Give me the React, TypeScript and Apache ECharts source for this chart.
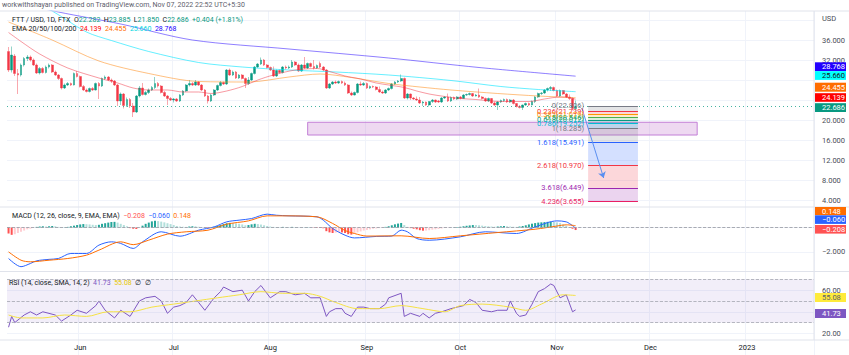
import React, { useEffect, useRef } from 'react';
import * as echarts from 'echarts';

const START = Date.UTC(2022, 4, 9);
const DAYS = 259;
const MONTHS = ['Jan', 'Feb', 'Mar', 'Apr', 'May', 'Jun', 'Jul', 'Aug', 'Sep', 'Oct', 'Nov', 'Dec'];

// [open, close, low, high]
const candles: number[][] = [
  [33.7, 30.0, 29.6, 34.6], [30.0, 33.0, 29.5, 34.7], [32.8, 29.3, 28.8, 33.2], [29.3, 29.0, 25.2, 30.2],
  [29.0, 31.0, 28.7, 31.3], [31.0, 32.3, 30.7, 32.6], [32.3, 32.6, 31.8, 33.0], [32.6, 32.0, 31.7, 32.9],
  [32.0, 31.0, 30.8, 32.3], [31.0, 29.4, 29.2, 31.3], [29.4, 30.3, 29.1, 30.6], [30.3, 29.5, 29.3, 30.6],
  [29.5, 30.6, 29.3, 30.9], [30.6, 31.0, 30.3, 31.3], [31.0, 29.6, 29.4, 31.2], [29.6, 29.0, 28.8, 29.9],
  [29.0, 28.3, 28.0, 29.2], [28.3, 26.4, 26.1, 28.5], [26.4, 27.0, 26.2, 27.3], [27.0, 27.3, 26.8, 27.6],
  [27.3, 27.0, 26.8, 27.5], [27.0, 29.3, 26.9, 29.5], [29.3, 28.7, 28.5, 29.8], [28.7, 26.7, 26.5, 28.9],
  [26.7, 26.0, 25.8, 27.0], [26.0, 25.7, 25.5, 26.3], [25.7, 26.3, 25.5, 26.5], [26.3, 26.0, 25.8, 26.6],
  [26.0, 27.3, 25.9, 27.5], [27.3, 26.8, 24.2, 27.6], [26.8, 28.3, 26.6, 28.5], [28.3, 28.6, 28.0, 28.9],
  [28.6, 28.0, 27.8, 28.8], [28.0, 27.8, 27.4, 28.3], [27.8, 27.0, 26.8, 28.0], [27.0, 23.8, 22.8, 27.2],
  [23.8, 25.2, 23.0, 25.5], [25.2, 22.9, 22.3, 25.4], [22.9, 24.1, 22.6, 24.5], [24.1, 22.8, 22.4, 24.4],
  [22.8, 21.6, 20.6, 23.4], [21.6, 24.8, 21.4, 25.0], [24.8, 26.4, 24.5, 26.8], [26.4, 25.1, 24.9, 27.4],
  [25.1, 25.5, 24.9, 25.8], [25.5, 26.0, 25.2, 26.3], [26.0, 26.5, 25.8, 26.8], [26.5, 27.3, 26.2, 28.6],
  [27.3, 26.8, 26.5, 27.6], [26.8, 25.5, 25.3, 27.0], [25.5, 24.8, 24.6, 25.8], [24.8, 24.3, 23.0, 25.0],
  [24.3, 24.0, 23.8, 24.6], [24.0, 24.2, 23.5, 24.4], [24.2, 23.8, 23.6, 24.4], [23.8, 25.0, 23.6, 25.2],
  [25.0, 25.8, 24.8, 26.0], [25.8, 27.0, 25.6, 27.2], [27.0, 27.3, 26.7, 28.0], [27.3, 27.0, 26.8, 27.6],
  [27.0, 27.6, 26.8, 28.0], [27.6, 27.0, 26.8, 27.8], [27.0, 26.0, 25.8, 27.2], [26.0, 24.8, 24.6, 26.2],
  [24.8, 23.8, 23.3, 25.0], [23.8, 25.0, 23.6, 25.2], [25.0, 26.0, 24.8, 26.2], [26.0, 26.9, 25.8, 27.1],
  [26.9, 27.5, 26.7, 27.8], [27.5, 27.2, 27.0, 27.7], [27.2, 30.0, 27.0, 30.2], [30.0, 29.0, 28.8, 30.3],
  [29.0, 29.6, 28.8, 29.9], [29.6, 28.4, 28.2, 29.8], [28.4, 29.0, 28.2, 29.2], [29.0, 28.3, 28.1, 29.2],
  [28.3, 27.3, 26.4, 28.5], [27.3, 28.0, 27.0, 28.6], [28.0, 29.3, 27.8, 29.5], [29.3, 30.6, 29.1, 30.8],
  [30.6, 31.2, 30.4, 31.4], [31.2, 32.0, 31.0, 32.5], [32.0, 31.0, 30.8, 32.2], [31.0, 30.5, 30.3, 31.2],
  [30.5, 30.0, 29.8, 30.7], [30.0, 28.8, 28.6, 30.7], [28.8, 29.9, 28.6, 30.1], [29.9, 29.5, 29.3, 30.1],
  [29.5, 30.6, 29.3, 30.8], [30.6, 30.4, 30.1, 30.9], [30.4, 30.6, 30.2, 30.9], [30.6, 31.6, 30.4, 32.0],
  [31.6, 31.0, 30.8, 31.8], [31.0, 29.8, 29.6, 31.3], [29.8, 31.0, 29.6, 31.2], [31.0, 30.4, 30.2, 32.6],
  [30.4, 31.3, 30.2, 31.5], [31.3, 30.7, 30.5, 31.5], [30.7, 30.4, 30.1, 32.0], [30.4, 30.9, 30.2, 31.1],
  [31.3, 30.6, 30.4, 31.7], [30.6, 30.0, 29.8, 30.8], [30.0, 26.4, 26.2, 30.2], [26.4, 27.2, 26.2, 27.4],
  [27.2, 27.6, 27.0, 27.8], [27.6, 27.4, 27.2, 27.9], [27.4, 27.7, 27.2, 27.9], [27.7, 27.4, 27.2, 27.9],
  [27.4, 27.0, 26.8, 27.7], [27.0, 25.4, 25.2, 27.2], [25.4, 25.0, 24.8, 25.7], [25.0, 25.5, 24.9, 25.7],
  [25.5, 27.2, 25.3, 27.4], [27.2, 27.0, 26.8, 27.7], [27.0, 27.3, 26.8, 27.6], [27.3, 26.4, 26.2, 27.5],
  [26.4, 26.7, 26.2, 26.9], [26.7, 26.6, 26.4, 26.9], [26.6, 26.1, 25.9, 26.8], [26.1, 25.6, 25.4, 26.7],
  [25.6, 25.4, 25.2, 25.9], [25.4, 26.0, 25.2, 26.2], [26.0, 26.3, 25.8, 26.5], [26.3, 27.2, 26.1, 27.4],
  [27.2, 27.6, 27.0, 27.8], [27.6, 27.8, 27.4, 28.0], [27.8, 28.3, 27.6, 29.1], [28.3, 24.4, 24.2, 28.5],
  [24.4, 25.2, 24.1, 25.4], [25.2, 24.4, 24.0, 25.3], [24.4, 24.2, 24.0, 24.6], [24.2, 24.0, 23.8, 24.7],
  [24.0, 23.4, 23.2, 24.6], [23.4, 23.6, 22.8, 23.8], [23.6, 23.0, 22.8, 23.7], [23.0, 23.7, 22.7, 23.8],
  [23.7, 24.0, 23.4, 24.2], [24.0, 23.6, 23.4, 24.1], [23.8, 23.6, 23.4, 24.0], [23.6, 24.4, 23.4, 24.6],
  [24.4, 24.6, 24.2, 24.8], [24.6, 23.8, 23.6, 25.3], [23.8, 24.5, 23.6, 24.7], [24.5, 24.2, 24.0, 24.7],
  [24.2, 24.6, 24.0, 24.8], [24.6, 24.3, 24.1, 24.8], [24.3, 25.0, 24.2, 25.2], [25.0, 25.1, 24.8, 25.3],
  [25.1, 25.3, 24.9, 25.5], [25.3, 24.8, 24.6, 25.4], [24.8, 25.0, 24.7, 25.2], [25.0, 24.6, 24.4, 26.3],
  [24.6, 24.3, 24.1, 24.8], [24.3, 23.8, 23.6, 24.5], [23.8, 24.3, 23.6, 24.5], [24.3, 23.4, 23.2, 24.4],
  [23.4, 23.0, 22.8, 23.7], [23.0, 23.6, 22.0, 23.8], [23.6, 23.9, 23.4, 24.1], [23.9, 24.1, 23.6, 24.3],
  [24.1, 23.6, 23.4, 24.3], [23.6, 24.0, 23.4, 24.2], [24.0, 23.3, 23.1, 24.2], [23.3, 22.7, 22.5, 23.4],
  [22.7, 22.5, 22.3, 23.0], [22.5, 23.0, 22.0, 23.1], [23.0, 23.3, 22.8, 23.5], [23.3, 23.0, 22.8, 23.5],
  [23.0, 23.7, 22.9, 23.9], [23.7, 24.6, 23.4, 24.8], [24.6, 25.3, 24.4, 25.5], [25.3, 25.4, 25.0, 25.6],
  [25.4, 26.0, 25.2, 26.2], [26.0, 26.3, 25.7, 26.5], [26.3, 26.5, 25.8, 26.8], [26.5, 25.9, 25.7, 26.7],
  [25.9, 24.8, 24.6, 26.1], [24.8, 25.9, 24.6, 26.1], [25.9, 25.2, 25.0, 26.0], [25.2, 24.6, 24.4, 25.4],
  [24.6, 24.3, 24.0, 25.1], [24.3, 22.282, 22.0, 24.5], [22.282, 22.686, 21.85, 23.885],
];

// [day index, value]
const ema20: number[][] = [
  [0, 37.5], [4, 35.7], [10, 33.2], [19, 30.4], [29, 28.4], [35, 27.4], [40, 26.4], [45, 26.0], [51, 26.0],
  [56, 25.6], [61, 25.6], [65, 25.3], [70, 25.8], [75, 26.7], [80, 28.0], [85, 29.0], [92, 30.0], [99, 30.3],
  [103, 29.7], [108, 28.8], [113, 28.2], [118, 27.4], [122, 27.0], [127, 26.5], [131, 25.8], [135, 25.2],
  [140, 24.7], [145, 24.3], [150, 24.1], [158, 23.7], [167, 23.7], [172, 24.2], [177, 24.6], [180, 24.5], [182, 24.139],
];
const ema50: number[][] = [
  [0, 39.6], [14, 36.0], [29, 31.8], [45, 29.3], [61, 27.7], [77, 27.6], [90, 28.6], [100, 29.2], [110, 28.5],
  [122, 27.3], [132, 26.6], [142, 26.0], [157, 25.3], [170, 24.8], [182, 24.455],
];
const ema100: number[][] = [
  [0, 46.0], [7, 43.8], [14, 41.8], [25, 37.6], [33, 35.9], [45, 33.7], [61, 31.5], [75, 30.6], [90, 30.0],
  [105, 29.6], [122, 29.0], [142, 27.9], [158, 26.7], [170, 26.1], [182, 25.66],
];
const ema200: number[][] = [
  [0, 43.8], [16, 41.6], [36, 39.2], [59, 36.0], [90, 34.2], [122, 32.4], [151, 30.5], [182, 28.768],
];

const macdLine: number[][] = [
  [0, -2.53], [4, -3.2], [7, -2.94], [9, -2.72], [13, -2.6], [16, -2.53], [20, -2.12], [25, -2.12], [29, -1.44],
  [33, -1.17], [36, -1.3], [40, -1.71], [43, -1.17], [49, -0.35], [55, -0.71], [61, -0.22], [66, 0.05], [70, 0.46],
  [74, 0.6], [78, 0.73], [83, 1.09], [86, 1.0], [90, 0.95], [99, 0.87], [101, 0.6], [104, -0.08], [108, -0.63],
  [111, -0.85], [118, -0.73], [123, -0.7], [126, -0.22], [128, -0.35], [131, -0.9], [135, -1.04], [145, -0.76],
  [153, -0.35], [163, -0.49], [169, 0.05], [176, 0.54], [179, 0.46], [181, 0.15], [182, -0.06],
];
const signalLine: number[][] = [
  [0, -1.99], [4, -2.67], [7, -2.8], [13, -2.67], [19, -2.53], [25, -2.26], [29, -1.85], [36, -1.17], [40, -1.4],
  [45, -1.03], [51, -0.54], [57, -0.35], [64, -0.22], [70, 0.27], [77, 0.54], [83, 0.95], [88, 0.95], [99, 0.87],
  [104, 0.33], [108, -0.25], [111, -0.49], [115, -0.7], [126, -0.68], [135, -0.9], [145, -0.68], [157, -0.41],
  [169, -0.14], [176, 0.12], [179, 0.22], [182, 0.148],
];
const macdHist: number[] = [
  -0.5, -0.6, -0.55, -0.45, -0.35, -0.25, -0.15, -0.1, -0.02, 0.05, 0.08, 0.1, 0.08, 0.1, 0.12, 0.1, 0.05, 0.0, 0.02, 0.05,
  0.1, 0.15, 0.2, 0.25, 0.28, 0.27, 0.25, 0.22, 0.2, 0.22, 0.3, 0.35, 0.4, 0.45, 0.46, 0.4, 0.3, 0.2, 0.1, -0.05,
  -0.1, -0.12, 0.0, 0.15, 0.3, 0.4, 0.5, 0.55, 0.52, 0.48, 0.42, 0.35, 0.28, 0.2, 0.12, 0.08, 0.06, 0.05, 0.08, 0.1,
  0.1, 0.06, 0.02, -0.02, -0.05, 0.0, 0.06, 0.12, 0.2, 0.28, 0.35, 0.38, 0.36, 0.33, 0.3, 0.25, 0.18, 0.2, 0.26, 0.3,
  0.28, 0.24, 0.18, 0.12, 0.08, 0.05, 0.04, 0.03, 0.05, 0.04, 0.03, 0.05, 0.04, 0.02, 0.0, 0.01, 0.02, 0.0, -0.02, -0.03,
  -0.04, -0.06, -0.3, -0.4, -0.45, -0.42, -0.38, -0.4, -0.45, -0.55, -0.58, -0.5, -0.4, -0.32, -0.25, -0.2, -0.15, -0.1, -0.08, -0.05,
  -0.02, 0.05, 0.1, 0.18, 0.26, 0.32, 0.37, 0.2, 0.05, -0.05, -0.1, -0.15, -0.22, -0.26, -0.25, -0.22, -0.18, -0.15, -0.12, -0.08,
  -0.04, -0.02, 0.0, 0.02, 0.04, 0.06, 0.1, 0.14, 0.17, 0.2, 0.2, 0.18, 0.15, 0.12, 0.1, 0.08, 0.06, 0.08, 0.1, 0.12,
  0.1, 0.08, 0.06, 0.05, 0.08, 0.12, 0.18, 0.25, 0.31, 0.36, 0.4, 0.42, 0.44, 0.46, 0.47, 0.46, 0.42, 0.36, 0.26, 0.15,
  0.04, -0.1, -0.208,
];

const rsiLine: number[][] = [
  [0, 25.7], [1, 35.7], [2, 30], [5, 37], [7, 40], [9, 37], [11, 40], [15, 37], [17, 31.4], [20, 37], [22, 41.4],
  [25, 38.6], [28, 45.7], [29, 50], [31, 41.4], [34, 34.3], [36, 41.4], [39, 35.7], [42, 50], [44, 52.9], [47, 54.3],
  [49, 50], [51, 38.6], [53, 44.3], [55, 45.7], [57, 48.6], [59, 55.7], [61, 48.6], [63, 41.4], [66, 52.9], [68, 58.6],
  [69, 62.9], [72, 58.6], [75, 60], [77, 50], [79, 58.6], [81, 64.3], [84, 52.9], [87, 58.6], [89, 58.6], [92, 55.7],
  [95, 57], [97, 52.9], [100, 53], [102, 35.7], [103, 40], [105, 42.9], [107, 42.9], [108, 38.6], [110, 35.7],
  [112, 44.3], [114, 44.3], [116, 42.9], [119, 42.9], [121, 47.1], [122, 52.9], [126, 57.1], [127, 35.7], [129, 38.6],
  [132, 35.7], [133, 38.6], [135, 34.3], [137, 38.6], [139, 40], [142, 42.9], [144, 44.3], [146, 45.7], [148, 51.4],
  [150, 48.6], [152, 41.4], [155, 40], [157, 41.4], [160, 41.4], [161, 50], [163, 38.6], [164, 35.7], [166, 37],
  [168, 47], [170, 58.6], [172, 61.4], [174, 65.7], [175, 64.3], [177, 52.9], [179, 55.7], [181, 40], [182, 41.73],
];
const rsiSma: number[][] = [
  [0, 37], [4, 34.3], [11, 34.3], [18, 37], [25, 35.7], [32, 40], [39, 40], [46, 44.3], [53, 47.1], [60, 50],
  [67, 52.9], [74, 55.7], [81, 58.6], [88, 57.1], [95, 57.1], [100, 54.3], [105, 48.6], [112, 42.9], [119, 42.9],
  [126, 45.7], [133, 42.9], [140, 40], [145, 45.7], [152, 47.1], [161, 44.3], [166, 41.4], [171, 47.1], [178, 55.7],
  [182, 55.08],
];

const fibLevels: number[] = [0, 0.236, 0.382, 0.5, 0.618, 0.786, 1, 1.618, 2.618, 3.618, 4.236];
const fibPrices: number[] = [22.806, 21.739, 21.079, 20.546, 20.012, 19.252, 18.285, 15.491, 10.97, 6.449, 3.655];
const fibColors: string[] = ['#787b86', '#f23645', '#ff9800', '#4caf50', '#089981', '#00bcd4', '#787b86', '#2962ff', '#f23645', '#9c27b0', '#e91e63'];
const fibSpan: number[] = [186, 202];
const zoneX: number[] = [96, 221];
const zoneY: number[] = [19.55, 17.0];
const arrowFrom: number[] = [184, 22.4];
const arrowTo: number[] = [191, 8.4];

// axis labels hidden behind the value tags in the reference
const hiddenPriceTicks: number[] = [24, 28, 40];
const hiddenMacdTicks: number[] = [0];
const hiddenRsiTicks: number[] = [40];

const UP = '#089981';
const DOWN = '#f23645';
const FF = 'Roboto, "Noto Sans", sans-serif';

function rgba(hex: string, a: number) {
  const n = parseInt(hex.slice(1), 16);
  return `rgba(${(n >> 16) & 255},${(n >> 8) & 255},${n & 255},${a})`;
}
const neg = (v: number, d: number) => (v < 0 ? '\u2212' : '') + Math.abs(v).toFixed(d);

export default function App() {
  const ref = useRef<HTMLDivElement>(null);
  useEffect(() => {
    const chart = echarts.init(ref.current!, null, { renderer: 'svg' });
    const cats = Array.from({ length: DAYS }, (_, i) => new Date(START + i * 864e5).toISOString().slice(0, 10));
    const isFirst = (_i: number, v: string) => v.endsWith('-01');
    const monthLabel = (v: string) => {
      const m = +v.slice(5, 7);
      return m === 1 ? v.slice(0, 4) : MONTHS[m - 1];
    };
    const last = candles[candles.length - 1];
    const prevClose = candles[candles.length - 2][1];
    const chg = last[1] - prevClose;
    const chgPct = (chg / prevClose) * 100;
    const lastOf = (a: number[][]) => a[a.length - 1][1];
    const e20 = lastOf(ema20), e50 = lastOf(ema50), e100 = lastOf(ema100), e200 = lastOf(ema200);
    const mLast = lastOf(macdLine), sLast = lastOf(signalLine), hLast = macdHist[macdHist.length - 1];
    const rLast = lastOf(rsiLine), rsLast = lastOf(rsiSma);

    const histItems = macdHist.map((v, i) => {
      const prev = i > 0 ? macdHist[i - 1] : v;
      const c = v >= 0 ? (prev < v ? '#26a69a' : '#b2dfdb') : (prev < v ? '#ffcdd2' : '#ff5252');
      return { value: v, itemStyle: { color: c } };
    });

    const baseX = (gi: number) => ({
      type: 'category', gridIndex: gi, data: cats, boundaryGap: true,
      axisLine: { show: false }, axisTick: { show: false }, axisLabel: { show: false },
      splitLine: { show: gi < 3, interval: isFirst, lineStyle: { color: '#f0f3fa', width: 1 } },
    });
    const axisLabelStyle = { color: '#4a4d57', fontSize: 7.5, fontFamily: FF, margin: 8 };

    const fibAreas = fibPrices.slice(0, -1).map((p, i) => [
      { coord: [fibSpan[0], p], itemStyle: { color: rgba(fibColors[i], 0.2) } },
      { coord: [fibSpan[1], fibPrices[i + 1]] },
    ]);
    const fibLines = fibPrices.map((p, i) => [
      {
        coord: [fibSpan[0], p],
        lineStyle: { color: fibColors[i], width: 1, type: 'solid' },
        label: { show: true, position: 'start', distance: 4, color: fibColors[i], fontSize: 7.5, fontFamily: FF, formatter: `${fibLevels[i]}(${p.toFixed(3)})` },
      },
      { coord: [fibSpan[1], p] },
    ]);

    const tag = (y: number, h: number, bg: string, text: string, fg = '#ffffff') => ({
      type: 'group', z: 100,
      children: [
        { type: 'rect', z: 100, shape: { x: 815, y, width: 31, height: h }, style: { fill: bg } },
        { type: 'text', z: 101, x: 822, y: y + h / 2, style: { text, fill: fg, fontSize: 7.5, fontFamily: FF, verticalAlign: 'middle', textVerticalAlign: 'middle' } },
      ],
    });
    const txt = (x: number, y: number, text: string, rich: any, fill = '#131722') => ({
      type: 'text', z: 50, x, y,
      style: { text, rich, fill, fontSize: 7, fontFamily: FF, verticalAlign: 'middle', textVerticalAlign: 'middle' },
    });
    const r = (c: string) => ({ fill: c, color: c, fontSize: 7, fontFamily: FF });
    const hline = (y: number) => ({ type: 'line', z: 40, shape: { x1: 0, y1: y, x2: 849, y2: y }, style: { stroke: '#e0e3eb', lineWidth: 1 } });

    const option: any = {
      animation: false,
      backgroundColor: '#ffffff',
      textStyle: { fontFamily: FF },
      grid: [
        { left: 7, right: 35, top: 11, height: 209 },
        { left: 7, right: 35, top: 207, height: 69.5 },
        { left: 7, right: 35, top: 272, height: 89.6 },
        { left: 7, right: 35, top: 340, height: 0.5 },
      ],
      xAxis: [
        baseX(0), baseX(1), baseX(2),
        {
          ...baseX(3),
          axisLabel: { show: true, interval: isFirst, formatter: monthLabel, color: '#131722', fontSize: 7.5, fontFamily: FF, margin: 3 },
        },
      ],
      yAxis: [
        {
          type: 'value', gridIndex: 0, position: 'right', min: 0, max: 41.8, interval: 4,
          axisLine: { show: false }, axisTick: { show: false },
          splitLine: { show: true, showMinLine: false, showMaxLine: false, lineStyle: { color: '#f0f3fa' } },
          axisLabel: { ...axisLabelStyle, showMinLabel: false, showMaxLabel: false, formatter: (v: number) => (v <= 0 || hiddenPriceTicks.includes(v) ? '' : v.toFixed(3)) },
        },
        {
          type: 'value', gridIndex: 1, position: 'right', min: -4, max: 1.673, interval: 2,
          axisLine: { show: false }, axisTick: { show: false },
          splitLine: { show: true, showMinLine: false, showMaxLine: false, lineStyle: { color: '#f0f3fa' } },
          axisLabel: { ...axisLabelStyle, showMinLabel: false, showMaxLabel: false, formatter: (v: number) => (v <= -4 || hiddenMacdTicks.includes(v) ? '' : neg(v, 3)) },
        },
        {
          type: 'value', gridIndex: 2, position: 'right', min: 0, max: 76.8, interval: 20,
          axisLine: { show: false }, axisTick: { show: false },
          splitLine: { show: true, showMinLine: false, showMaxLine: false, lineStyle: { color: '#f0f3fa' } },
          axisLabel: { ...axisLabelStyle, showMinLabel: false, showMaxLabel: false, formatter: (v: number) => (v <= 0 || hiddenRsiTicks.includes(v) ? '' : v.toFixed(2)) },
        },
        { type: 'value', gridIndex: 3, show: false },
      ],
      series: [
        {
          type: 'candlestick', xAxisIndex: 0, yAxisIndex: 0, data: candles, barWidth: 2.2,
          itemStyle: { color: UP, color0: DOWN, borderColor: rgba(UP, 0.55), borderColor0: rgba(DOWN, 0.55), borderWidth: 0.8 },
          markLine: {
            silent: true, symbol: 'none', label: { show: false },
            lineStyle: { color: 'rgba(8,153,129,0.75)', type: [1, 3], width: 1 },
            data: [{ yAxis: last[1] }],
          },
          markArea: {
            silent: true,
            itemStyle: { color: 'rgba(186,104,200,0.25)', borderColor: '#c27fd6', borderWidth: 1 },
            data: [[{ coord: [zoneX[0], zoneY[0]] }, { coord: [zoneX[1], zoneY[1]] }]],
          },
        },
        { type: 'line', xAxisIndex: 0, yAxisIndex: 0, data: ema200, showSymbol: false, symbol: 'none', smooth: 0.3, lineStyle: { color: '#2200ff', width: 1, opacity: 0.5 } },
        { type: 'line', xAxisIndex: 0, yAxisIndex: 0, data: ema100, showSymbol: false, symbol: 'none', smooth: 0.3, lineStyle: { color: '#00e5ff', width: 1, opacity: 0.6 } },
        { type: 'line', xAxisIndex: 0, yAxisIndex: 0, data: ema50, showSymbol: false, symbol: 'none', smooth: 0.3, lineStyle: { color: '#ff8c1a', width: 1, opacity: 0.55 } },
        { type: 'line', xAxisIndex: 0, yAxisIndex: 0, data: ema20, showSymbol: false, symbol: 'none', smooth: 0.3, lineStyle: { color: '#f23645', width: 1, opacity: 0.5 } },
        {
          type: 'line', xAxisIndex: 0, yAxisIndex: 0, data: [], silent: true,
          markArea: { silent: true, data: fibAreas },
          markLine: { silent: true, symbol: 'none', data: fibLines },
        },
        {
          type: 'line', xAxisIndex: 0, yAxisIndex: 0, data: [], silent: true,
          markLine: {
            silent: true, symbol: ['none', 'arrow'], symbolSize: 6, label: { show: false },
            lineStyle: { color: '#5b8ff0', width: 1, type: 'solid' },
            data: [[{ coord: arrowFrom }, { coord: arrowTo }]],
          },
        },
        {
          type: 'bar', xAxisIndex: 1, yAxisIndex: 1, data: histItems, barWidth: 2,
          markLine: {
            silent: true, symbol: 'none', label: { show: false },
            lineStyle: { color: '#9598a1', type: 'dashed', width: 0.8 },
            data: [{ yAxis: 0 }],
          },
        },
        { type: 'line', xAxisIndex: 1, yAxisIndex: 1, data: macdLine, showSymbol: false, symbol: 'none', smooth: 0.3, lineStyle: { color: '#2962ff', width: 1 } },
        { type: 'line', xAxisIndex: 1, yAxisIndex: 1, data: signalLine, showSymbol: false, symbol: 'none', smooth: 0.3, lineStyle: { color: '#ff6d00', width: 1 } },
        {
          type: 'line', xAxisIndex: 2, yAxisIndex: 2, data: rsiLine, showSymbol: false, symbol: 'none', lineStyle: { color: '#7e57c2', width: 1 }, z: 3,
          markArea: { silent: true, itemStyle: { color: 'rgba(126,87,194,0.1)' }, data: [[{ yAxis: 70 }, { yAxis: 30 }]] },
          markLine: {
            silent: true, symbol: 'none', label: { show: false },
            lineStyle: { color: '#a3a6b0', type: 'dashed', width: 0.8 },
            data: [{ yAxis: 70 }, { yAxis: 50 }, { yAxis: 30 }],
          },
        },
        { type: 'line', xAxisIndex: 2, yAxisIndex: 2, data: rsiSma, showSymbol: false, symbol: 'none', smooth: 0.3, lineStyle: { color: '#f5e142', width: 1 } },
      ],
      graphic: [
        hline(11), hline(207), hline(271.5), hline(340),
        { type: 'line', z: 40, shape: { x1: 814, y1: 11, x2: 814, y2: 340 }, style: { stroke: '#e0e3eb', lineWidth: 1 } },
        txt(2, 5, 'workwithshayan published on TradingView.com, Nov 07, 2022 22:52 UTC+5:30', undefined, '#5d606b'),
        txt(12, 20,
          `{t|FTT / USD, 1D, FTX}  {k|O}{v|${last[0].toFixed(3)}}  {k|H}{v|${last[3].toFixed(3)}}  {k|L}{v|${last[2].toFixed(3)}}  {k|C}{v|${last[1].toFixed(3)}}  {v|${chg >= 0 ? '+' : '\u2212'}${Math.abs(chg).toFixed(3)} (${chg >= 0 ? '+' : '\u2212'}${Math.abs(chgPct).toFixed(2)}%)}`,
          { t: r('#131722'), k: r('#131722'), v: r(UP) }),
        txt(12, 29,
          `{t|EMA 20/50/100/200}  {a|${e20.toFixed(3)}}  {b|${e50.toFixed(3)}}  {c|${e100.toFixed(3)}}  {d|${e200.toFixed(3)}}`,
          { t: r('#131722'), a: r('#ff0000'), b: r('#ff6d00'), c: r('#00d5e0'), d: r('#2200ff') }),
        txt(12, 216,
          `{t|MACD (12, 26, close, 9, EMA, EMA)}  {a|${neg(hLast, 3)}}  {b|${neg(mLast, 3)}}  {c|${neg(sLast, 3)}}`,
          { t: r('#131722'), a: r('#ff5252'), b: r('#2962ff'), c: r('#ff6d00') }),
        txt(9, 283,
          `{t|RSI (14, close, SMA, 14, 2)}  {a|${rLast.toFixed(2)}}  {b|${rsLast.toFixed(2)}}  {t|\u2205  \u2205}`,
          { t: r('#131722'), a: r('#7e57c2'), b: r('#e6c800') }),
        { type: 'text', z: 50, x: 822, y: 18, style: { text: 'USD', fill: '#4a4d57', fontSize: 7.5, fontFamily: FF, verticalAlign: 'middle', textVerticalAlign: 'middle' } },
        tag(62.3, 8.8, '#2200ff', e200.toFixed(3)),
        tag(71.1, 8.8, '#00ffff', e100.toFixed(3), '#131722'),
        tag(82.7, 9, '#ff6d00', e50.toFixed(3)),
        tag(93.2, 8.6, '#ff0000', e20.toFixed(3)),
        tag(103.2, 8.8, UP, last[1].toFixed(3)),
        tag(207, 8.2, '#ff6d00', neg(sLast, 3)),
        tag(215.3, 8.6, '#2962ff', neg(mLast, 3)),
        tag(225, 8.6, '#ff5252', neg(hLast, 3)),
        tag(293, 9, '#ffeb3b', rsLast.toFixed(2), '#5d606b'),
        tag(309, 9, '#7e57c2', rLast.toFixed(2)),
      ],
    };
    chart.setOption(option);
    return () => chart.dispose();
  }, []);
  return <div ref={ref} style={{ position: 'fixed', left: 0, top: 0, width: 849, height: 355, background: '#fff' }} />;
}
